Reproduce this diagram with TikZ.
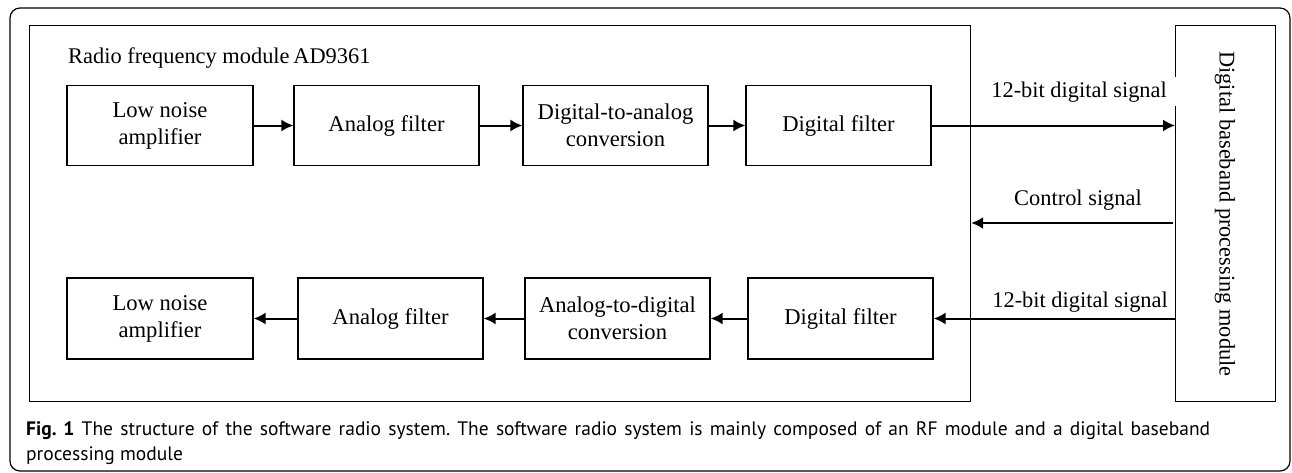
\documentclass[tikz,border=0pt]{standalone}
\usepackage{fontspec}
\setmainfont{Liberation Serif}
\newfontfamily\capfont{PT Sans}
\usetikzlibrary{arrows.meta}
\frenchspacing
\begin{document}
\begin{tikzpicture}[x=1pt,y=-1pt,
  blk/.style={draw,line width=1.2pt,minimum height=80pt,align=center,inner sep=0pt,font=\fontsize{22.6}{27}\selectfont},
  arr/.style={line width=2pt,-{Latex[length=12pt,width=12pt]}},
  lbl/.style={font=\fontsize{22.4}{27}\selectfont,inner sep=0pt},
  frm/.style={draw,line width=1.2pt,inner sep=0pt,anchor=north west}]
\useasboundingbox (0,0) rectangle (1292,472);
% outer frame
\draw[line width=1.2pt,rounded corners=10pt] (10,8) rectangle (1290,471);
% RF module frame
\node[frm,minimum width=941pt,minimum height=376pt] (rf) at (29,25) {};
\node[lbl,anchor=base west] (rftitle) at (68,63) {Radio frequency module\,AD9361};
% baseband
\node[frm,minimum width=100pt,minimum height=376pt] (bb) at (1175,25) {};
\node[lbl,rotate=-90] (bbtext) at (1225,214) {Digital baseband processing module};
% top row
\node[blk,minimum width=186pt] (t1) at (160,125.5) {Low noise\\amplifier};
\node[blk,minimum width=185pt] (t2) at (386.5,125.5) {Analog filter};
\node[blk,minimum width=185pt] (t3) at (615.5,125.5) {Digital-to-analog\\conversion};
\node[blk,minimum width=185pt] (t4) at (838.5,125.5) {Digital filter};
% bottom row
\node[blk,minimum width=186pt,minimum height=81pt] (b1) at (160,318.5) {Low noise\\amplifier};
\node[blk,minimum width=185pt,minimum height=81pt] (b2) at (390.5,318.5) {Analog filter};
\node[blk,minimum width=185pt,minimum height=81pt] (b3) at (617.5,318.5) {Analog-to-digital\\conversion};
\node[blk,minimum width=185pt,minimum height=81pt] (b4) at (840.5,318.5) {Digital filter};
% arrows top
\draw[arr] (t1) -- (t2);
\draw[arr] (t2) -- (t3);
\draw[arr] (t3) -- (t4);
\draw[arr] (t4.east) -- (t4.east -| bb.west);
\node[lbl,anchor=base east,fill=white,inner xsep=9pt,inner ysep=4pt] (l1) at (1176,97) {12-bit digital signal};
% control
\coordinate (c1) at (1173,223);
\draw[arr] (c1) -- (c1 -| rf.east);
\node[lbl,anchor=base] (l2) at (1078,205) {Control signal};
% arrows bottom
\draw[arr] (b4.east -| bb.west) -- (b4.east);
\node[lbl,anchor=base east] (l3) at (1168,307) {12-bit digital signal};
\draw[arr] (b4) -- (b3);
\draw[arr] (b3) -- (b2);
\draw[arr] (b2) -- (b1);
% caption
\node[anchor=base west,inner sep=0pt,font=\capfont\fontsize{19.5}{22}\selectfont] (cap1) at (26,435) {\makebox[1184pt][s]{\textbf{Fig. 1} The structure of the software radio system. The software radio system is mainly composed of an RF module and a digital baseband}};
\node[anchor=base west,inner sep=0pt,font=\capfont\fontsize{19.5}{22}\selectfont] (cap2) at (26,460) {processing module};
\end{tikzpicture}
\end{document}
